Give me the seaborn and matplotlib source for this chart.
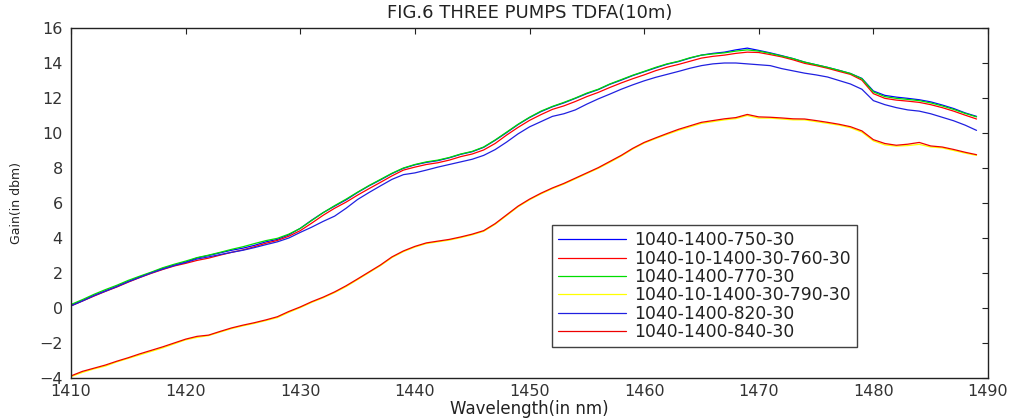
import matplotlib
matplotlib.use("Agg")
import matplotlib.pyplot as plt
import seaborn as sns
import pandas as pd
import numpy as np

# ---------------- data ----------------
wavelength = list(range(1410, 1490))

labels = ["1040-1400-750-30", "1040-10-1400-30-760-30", "1040-1400-770-30",
          "1040-10-1400-30-790-30", "1040-1400-820-30", "1040-1400-840-30"]

g750 = [0.15, 0.42, 0.72, 0.98, 1.24, 1.52, 1.78, 2.02, 2.26, 2.45,
        2.62, 2.86, 3.00, 3.15, 3.30, 3.42, 3.58, 3.78, 3.92, 4.18,
        4.55, 5.02, 5.45, 5.82, 6.18, 6.60, 6.98, 7.32, 7.68, 7.98,
        8.18, 8.32, 8.42, 8.58, 8.78, 8.93, 9.18, 9.58, 10.02, 10.48,
        10.88, 11.22, 11.50, 11.72, 11.98, 12.25, 12.48, 12.78, 13.02, 13.28,
        13.50, 13.72, 13.93, 14.08, 14.28, 14.45, 14.55, 14.62, 14.75, 14.85,
        14.72, 14.58, 14.42, 14.25, 14.05, 13.90, 13.75, 13.58, 13.40, 13.12,
        12.40, 12.15, 12.05, 11.98, 11.90, 11.78, 11.60, 11.40, 11.15, 10.95]

g760 = [0.12, 0.40, 0.68, 0.95, 1.20, 1.48, 1.74, 1.98, 2.20, 2.40,
        2.55, 2.72, 2.85, 3.02, 3.18, 3.32, 3.50, 3.70, 3.86, 4.10,
        4.42, 4.85, 5.30, 5.70, 6.05, 6.45, 6.82, 7.18, 7.55, 7.88,
        8.05, 8.20, 8.30, 8.45, 8.65, 8.80, 9.03, 9.40, 9.88, 10.32,
        10.72, 11.05, 11.35, 11.55, 11.80, 12.08, 12.32, 12.60, 12.86, 13.10,
        13.32, 13.56, 13.76, 13.92, 14.10, 14.28, 14.38, 14.45, 14.55, 14.62,
        14.60, 14.48, 14.35, 14.18, 13.98, 13.85, 13.70, 13.52, 13.35, 13.02,
        12.25, 11.98, 11.88, 11.82, 11.75, 11.62, 11.45, 11.25, 11.02, 10.80]

g770 = [0.20, 0.48, 0.78, 1.05, 1.30, 1.58, 1.82, 2.05, 2.30, 2.50,
        2.68, 2.88, 3.02, 3.18, 3.35, 3.50, 3.68, 3.85, 3.98, 4.22,
        4.55, 5.00, 5.45, 5.85, 6.22, 6.62, 7.00, 7.35, 7.70, 8.00,
        8.20, 8.35, 8.45, 8.60, 8.80, 8.95, 9.20, 9.60, 10.05, 10.50,
        10.90, 11.25, 11.52, 11.75, 12.00, 12.28, 12.50, 12.80, 13.05, 13.30,
        13.52, 13.75, 13.95, 14.10, 14.30, 14.45, 14.52, 14.58, 14.68, 14.75,
        14.68, 14.55, 14.40, 14.25, 14.05, 13.90, 13.75, 13.58, 13.40, 13.10,
        12.35, 12.08, 11.98, 11.92, 11.85, 11.72, 11.55, 11.35, 11.12, 10.92]

g790 = [-3.92, -3.68, -3.48, -3.32, -3.08, -2.88, -2.68, -2.48, -2.28, -2.05,
        -1.82, -1.68, -1.58, -1.38, -1.18, -1.02, -0.88, -0.72, -0.55, -0.25,
        0.02, 0.32, 0.58, 0.88, 1.22, 1.62, 2.02, 2.42, 2.88, 3.22,
        3.48, 3.68, 3.78, 3.88, 4.02, 4.18, 4.38, 4.78, 5.28, 5.78,
        6.18, 6.52, 6.82, 7.08, 7.38, 7.68, 7.98, 8.32, 8.68, 9.08,
        9.42, 9.68, 9.92, 10.15, 10.35, 10.55, 10.65, 10.75, 10.82, 11.00,
        10.85, 10.85, 10.80, 10.75, 10.75, 10.65, 10.55, 10.45, 10.30, 10.05,
        9.55, 9.32, 9.25, 9.28, 9.35, 9.20, 9.15, 9.00, 8.85, 8.72]

g820 = [0.12, 0.40, 0.70, 0.96, 1.22, 1.50, 1.75, 2.00, 2.22, 2.42,
        2.60, 2.80, 2.92, 3.05, 3.18, 3.30, 3.45, 3.62, 3.78, 4.00,
        4.32, 4.62, 4.95, 5.25, 5.70, 6.20, 6.60, 6.98, 7.35, 7.62,
        7.72, 7.88, 8.05, 8.20, 8.35, 8.50, 8.72, 9.05, 9.48, 9.95,
        10.35, 10.65, 10.95, 11.10, 11.32, 11.65, 11.95, 12.22, 12.50, 12.75,
        12.98, 13.18, 13.35, 13.52, 13.70, 13.85, 13.95, 14.00, 14.00, 13.95,
        13.90, 13.85, 13.68, 13.55, 13.42, 13.32, 13.20, 13.00, 12.80, 12.50,
        11.85, 11.62, 11.45, 11.32, 11.25, 11.10, 10.90, 10.70, 10.45, 10.15]

g840 = [-3.88, -3.62, -3.44, -3.26, -3.04, -2.84, -2.62, -2.42, -2.22, -2.00,
        -1.78, -1.62, -1.55, -1.34, -1.14, -0.98, -0.84, -0.68, -0.50, -0.20,
        0.06, 0.36, 0.62, 0.92, 1.27, 1.66, 2.06, 2.46, 2.92, 3.26,
        3.52, 3.72, 3.82, 3.92, 4.06, 4.22, 4.42, 4.82, 5.32, 5.82,
        6.22, 6.56, 6.86, 7.12, 7.42, 7.72, 8.02, 8.37, 8.72, 9.12,
        9.46, 9.72, 9.97, 10.21, 10.41, 10.61, 10.71, 10.81, 10.88, 11.06,
        10.92, 10.90, 10.86, 10.81, 10.80, 10.71, 10.61, 10.50, 10.36, 10.12,
        9.62, 9.40, 9.30, 9.36, 9.46, 9.26, 9.20, 9.06, 8.90, 8.76]

series_values = [g750, g760, g770, g790, g820, g840]
colors = ["#0000ff", "#ff0000", "#00dd00", "#ffff00", "#2020e0", "#ee0000"]

x_ticks = list(range(1410, 1491, 10))
y_ticks = list(range(-4, 17, 2))

# ---------------- table ----------------
frames = []
for lab, vals in zip(labels, series_values):
    frames.append(pd.DataFrame({"wl": wavelength, "gain": vals, "series": lab}))
df = pd.concat(frames, ignore_index=True)

# ---------------- style ----------------
sns.set_style("white")
plt.rcParams["font.family"] = ["DejaVu Sans"]
plt.rcParams["xtick.direction"] = "in"
plt.rcParams["ytick.direction"] = "in"

fig = plt.figure(figsize=(10.10, 4.18), dpi=100)
ax = fig.add_axes([71 / 1010, 40 / 418, 917 / 1010, 350 / 418])

sns.lineplot(data=df, x="wl", y="gain", hue="series", hue_order=labels,
             palette=dict(zip(labels, colors)), estimator=None, sort=False,
             linewidth=0.9, ax=ax)

ax.set_xlim(1410, 1490)
ax.set_ylim(-4, 16)
ax.set_xticks(x_ticks)
ax.set_yticks(y_ticks)
ax.tick_params(axis="both", which="both", direction="in", length=4, width=0.8,
               top=True, right=True, labelsize=11.5, colors="#222222",
               labelcolor="#333333")
ax.tick_params(axis="x", pad=4)
ax.tick_params(axis="y", pad=6)
for sp in ax.spines.values():
    sp.set_visible(True)
    sp.set_color("#222222")
    sp.set_linewidth(1.0)

ax.set_title("FIG.6 THREE PUMPS TDFA(10m)", fontsize=13, color="#222222", pad=7)
ax.set_xlabel("Wavelength(in nm)", fontsize=12, color="#222222", labelpad=1)
ax.set_ylabel("Gain(in dbm)", fontsize=9, color="#222222")
ax.yaxis.set_label_coords(-0.052, 0.5)

handles, labs = ax.get_legend_handles_labels()
leg = ax.legend(handles, labs, loc="lower left", bbox_to_anchor=(0.5245, 0.0886),
                borderaxespad=0, fontsize=12.3, frameon=True, fancybox=False,
                handlelength=4.0, handletextpad=0.45, labelspacing=0.02,
                borderpad=0.35)
leg.get_frame().set_edgecolor("#111111")
leg.get_frame().set_linewidth(1.0)
for t in leg.get_texts():
    t.set_color("#222222")

fig.savefig("out.png", dpi=100, facecolor="white")
